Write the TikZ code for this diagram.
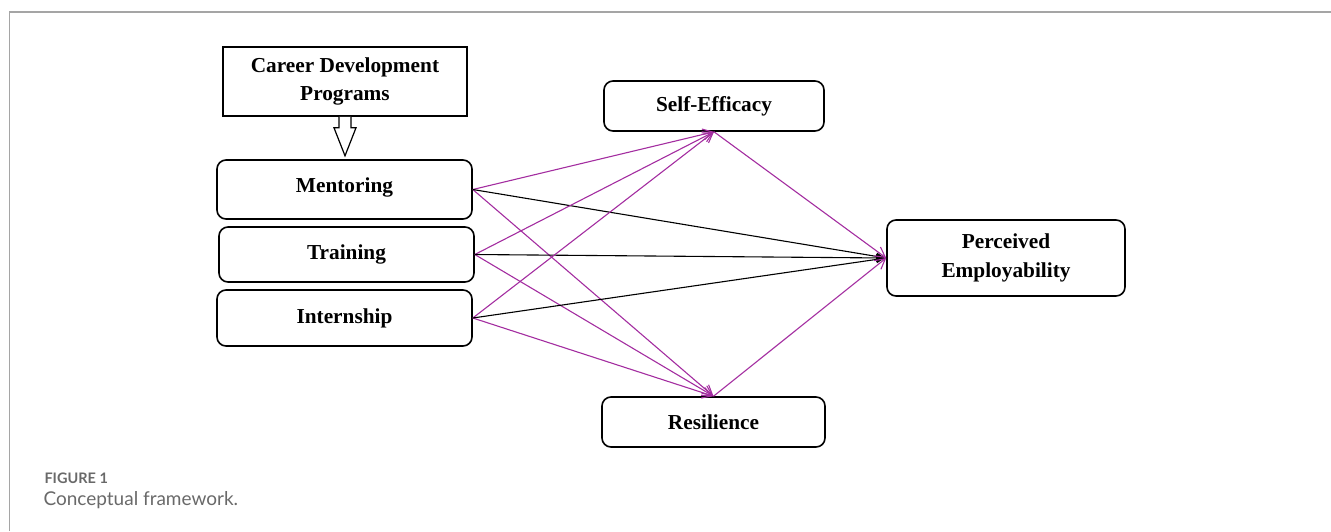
\documentclass[tikz,border=0pt]{standalone}
\usepackage{fontspec}
\setmainfont{Liberation Serif}
\newfontfamily\capfont{Lato}
\usetikzlibrary{arrows.meta}
\definecolor{linkpurple}{RGB}{163,45,160}
\definecolor{framegray}{RGB}{165,165,165}
\definecolor{capgray}{RGB}{105,105,105}

\begin{document}
\begin{tikzpicture}[x=1pt, y=-1pt,
  every node/.style = {align=center, font=\fontsize{21.3}{28.5}\selectfont\bfseries},
  box/.style = {draw, line width=1.6pt, rounded corners=9pt, inner sep=0pt},
  sqbox/.style = {draw, line width=1.6pt, inner sep=0pt},
  plink/.style = {draw=linkpurple, line width=1.1pt, -{Straight Barb[length=10pt,width=11pt]}},
  blink/.style = {draw=black, line width=1.1pt, -{Latex[length=10pt,width=8pt]}}]

\useasboundingbox (0,0) rectangle (1331,531);
\draw[framegray, line width=1.5pt] (9.5,531) -- (9.5,12) -- (1331,12);

% left side
\node[sqbox, minimum width=244pt, minimum height=69pt] (career) at (345,81.5)
	{Career Development\\Programs};
\node[box, minimum width=255pt, minimum height=59pt, text depth=9pt] (ment) at (344.5,189.5) {Mentoring};
\node[box, minimum width=255pt, minimum height=55pt] (train) at (346.5,254.5) {Training};
\node[box, minimum width=255pt, minimum height=56pt] (intern) at (344.5,318) {Internship};

% mediators and outcome
\node[box, minimum width=220pt, minimum height=50pt] (self) at (714,106) {Self-Efficacy};
\node[box, minimum width=223pt, minimum height=50pt] (resil) at (713.5,422) {Resilience};
\node[box, minimum width=238pt, minimum height=76pt] (percemp) at (1006,258)
	{Perceived\\Employability};

% hollow arrow
\draw[line width=1.2pt, fill=white, shift={(career.south)}]
	(-6,0) -- (-6,11) -- (-11,11) -- (0,39) -- (11,11) -- (6,11) -- (6,0);

\foreach \src in {ment, train, intern} {
	\draw[plink] (\src.east) -- (self.south);
	\draw[plink] (\src.east) -- (resil.north);
	\draw[blink] (\src.east) -- (percemp.west);
}
\draw[plink] (self.south) -- (percemp.west);
\draw[plink] (resil.north) -- (percemp.west);

% caption
\node[anchor=west, font=\capfont\fontsize{14.5}{17}\selectfont\bfseries, text=capgray]
	(fignum) at (41,478) {FIGURE 1};
\node[anchor=west, font=\capfont\fontsize{19}{22}\selectfont, text=capgray]
	(figcap) at (40,500) {Conceptual framework.};
\end{tikzpicture}
\end{document}
